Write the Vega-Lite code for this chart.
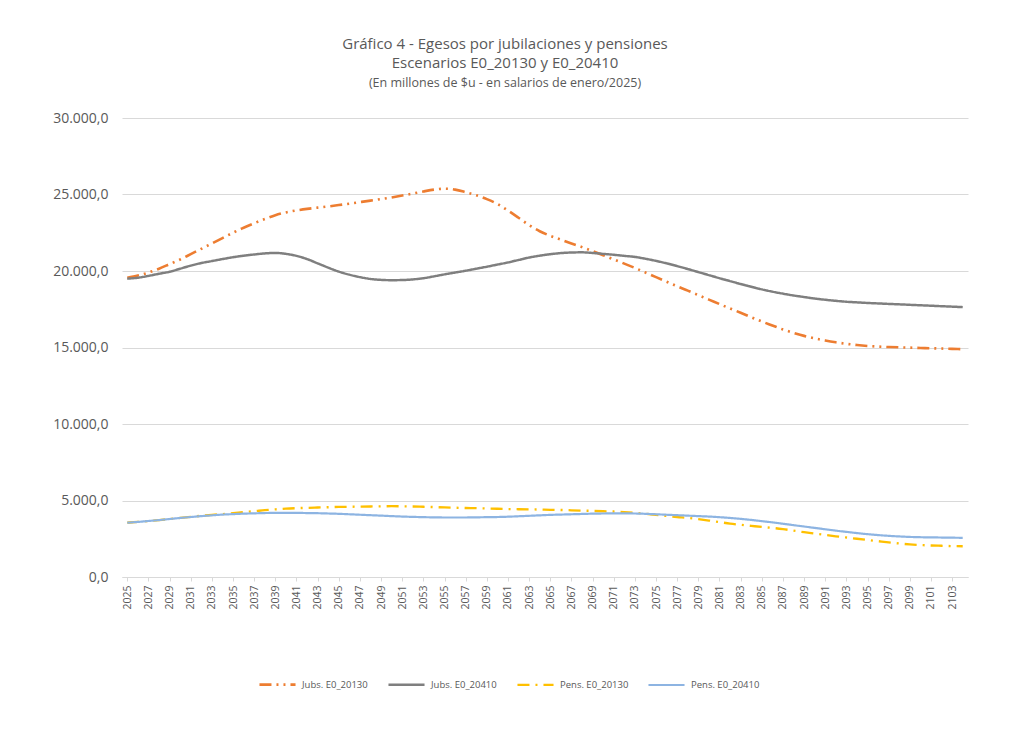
{
  "$schema": "https://vega.github.io/schema/vega-lite/v6.json",
  "autosize": {"type": "none"},
  "width": 846,
  "height": 459,
  "padding": {"left": 122, "top": 118, "right": 41, "bottom": 163},
  "background": "white",
  "title": {
    "text": ["Gráfico 4 - Egesos por jubilaciones  y pensiones", "Escenarios E0_20130 y E0_20410"],
    "subtitle": "(En millones de $u - en salarios de enero/2025)",
    "anchor": "middle",
    "dx": -40,
    "offset": 22,
    "font": "Open Sans",
    "fontSize": 15,
    "fontWeight": "normal",
    "color": "#595959",
    "lineHeight": 19,
    "subtitleFont": "Open Sans",
    "subtitleFontSize": 12.5,
    "subtitleColor": "#595959",
    "subtitlePadding": 6
  },
  "config": {
    "locale": {"number": {"decimal": ",", "thousands": ".", "grouping": [3], "currency": ["$", ""]}},
    "view": {"stroke": null},
    "font": "Open Sans"
  },
  "data": {
    "values": [
      {"y": 2025, "J130": 19550, "J410": 19500, "P130": 3550, "P410": 3550},
      {"y": 2026, "J130": 19700, "J410": 19560, "P130": 3600, "P410": 3600},
      {"y": 2027, "J130": 19900, "J410": 19680, "P130": 3660, "P410": 3660},
      {"y": 2028, "J130": 20150, "J410": 19820, "P130": 3720, "P410": 3720},
      {"y": 2029, "J130": 20450, "J410": 19950, "P130": 3790, "P410": 3790},
      {"y": 2030, "J130": 20750, "J410": 20150, "P130": 3860, "P410": 3860},
      {"y": 2031, "J130": 21100, "J410": 20350, "P130": 3930, "P410": 3920},
      {"y": 2032, "J130": 21450, "J410": 20520, "P130": 4000, "P410": 3980},
      {"y": 2033, "J130": 21800, "J410": 20650, "P130": 4060, "P410": 4030},
      {"y": 2034, "J130": 22150, "J410": 20780, "P130": 4110, "P410": 4080},
      {"y": 2035, "J130": 22500, "J410": 20900, "P130": 4170, "P410": 4110},
      {"y": 2036, "J130": 22830, "J410": 21000, "P130": 4240, "P410": 4140},
      {"y": 2037, "J130": 23120, "J410": 21080, "P130": 4300, "P410": 4160},
      {"y": 2038, "J130": 23400, "J410": 21150, "P130": 4370, "P410": 4180},
      {"y": 2039, "J130": 23650, "J410": 21180, "P130": 4420, "P410": 4190},
      {"y": 2040, "J130": 23830, "J410": 21120, "P130": 4470, "P410": 4190},
      {"y": 2041, "J130": 23960, "J410": 20990, "P130": 4500, "P410": 4190},
      {"y": 2042, "J130": 24060, "J410": 20780, "P130": 4520, "P410": 4180},
      {"y": 2043, "J130": 24140, "J410": 20500, "P130": 4540, "P410": 4170},
      {"y": 2044, "J130": 24220, "J410": 20220, "P130": 4560, "P410": 4150},
      {"y": 2045, "J130": 24310, "J410": 19960, "P130": 4580, "P410": 4130},
      {"y": 2046, "J130": 24400, "J410": 19760, "P130": 4590, "P410": 4100},
      {"y": 2047, "J130": 24500, "J410": 19600, "P130": 4600, "P410": 4070},
      {"y": 2048, "J130": 24600, "J410": 19480, "P130": 4610, "P410": 4040},
      {"y": 2049, "J130": 24700, "J410": 19420, "P130": 4620, "P410": 4010},
      {"y": 2050, "J130": 24810, "J410": 19400, "P130": 4630, "P410": 3980},
      {"y": 2051, "J130": 24930, "J410": 19410, "P130": 4620, "P410": 3950},
      {"y": 2052, "J130": 25060, "J410": 19450, "P130": 4610, "P410": 3930},
      {"y": 2053, "J130": 25200, "J410": 19530, "P130": 4590, "P410": 3910},
      {"y": 2054, "J130": 25320, "J410": 19650, "P130": 4570, "P410": 3900},
      {"y": 2055, "J130": 25380, "J410": 19780, "P130": 4550, "P410": 3890},
      {"y": 2056, "J130": 25320, "J410": 19900, "P130": 4530, "P410": 3890},
      {"y": 2057, "J130": 25150, "J410": 20020, "P130": 4510, "P410": 3890},
      {"y": 2058, "J130": 24950, "J410": 20150, "P130": 4500, "P410": 3900},
      {"y": 2059, "J130": 24700, "J410": 20280, "P130": 4480, "P410": 3910},
      {"y": 2060, "J130": 24380, "J410": 20420, "P130": 4460, "P410": 3920},
      {"y": 2061, "J130": 23950, "J410": 20560, "P130": 4440, "P410": 3940},
      {"y": 2062, "J130": 23480, "J410": 20720, "P130": 4430, "P410": 3970},
      {"y": 2063, "J130": 23000, "J410": 20880, "P130": 4420, "P410": 4000},
      {"y": 2064, "J130": 22600, "J410": 21000, "P130": 4410, "P410": 4030},
      {"y": 2065, "J130": 22300, "J410": 21100, "P130": 4390, "P410": 4060},
      {"y": 2066, "J130": 22050, "J410": 21170, "P130": 4380, "P410": 4080},
      {"y": 2067, "J130": 21800, "J410": 21210, "P130": 4360, "P410": 4100},
      {"y": 2068, "J130": 21560, "J410": 21220, "P130": 4340, "P410": 4120},
      {"y": 2069, "J130": 21300, "J410": 21180, "P130": 4320, "P410": 4140},
      {"y": 2070, "J130": 21030, "J410": 21120, "P130": 4300, "P410": 4150},
      {"y": 2071, "J130": 20760, "J410": 21060, "P130": 4280, "P410": 4160},
      {"y": 2072, "J130": 20480, "J410": 20990, "P130": 4240, "P410": 4160},
      {"y": 2073, "J130": 20200, "J410": 20920, "P130": 4190, "P410": 4150},
      {"y": 2074, "J130": 19900, "J410": 20800, "P130": 4130, "P410": 4130},
      {"y": 2075, "J130": 19600, "J410": 20660, "P130": 4060, "P410": 4100},
      {"y": 2076, "J130": 19300, "J410": 20500, "P130": 3990, "P410": 4070},
      {"y": 2077, "J130": 19000, "J410": 20320, "P130": 3920, "P410": 4040},
      {"y": 2078, "J130": 18720, "J410": 20130, "P130": 3860, "P410": 4010},
      {"y": 2079, "J130": 18420, "J410": 19930, "P130": 3780, "P410": 3980},
      {"y": 2080, "J130": 18130, "J410": 19730, "P130": 3690, "P410": 3950},
      {"y": 2081, "J130": 17840, "J410": 19530, "P130": 3590, "P410": 3910},
      {"y": 2082, "J130": 17550, "J410": 19340, "P130": 3490, "P410": 3860},
      {"y": 2083, "J130": 17270, "J410": 19150, "P130": 3410, "P410": 3800},
      {"y": 2084, "J130": 16980, "J410": 18970, "P130": 3340, "P410": 3730},
      {"y": 2085, "J130": 16700, "J410": 18800, "P130": 3270, "P410": 3650},
      {"y": 2086, "J130": 16440, "J410": 18650, "P130": 3210, "P410": 3570},
      {"y": 2087, "J130": 16180, "J410": 18520, "P130": 3130, "P410": 3480},
      {"y": 2088, "J130": 15960, "J410": 18400, "P130": 3030, "P410": 3390},
      {"y": 2089, "J130": 15760, "J410": 18300, "P130": 2930, "P410": 3300},
      {"y": 2090, "J130": 15600, "J410": 18200, "P130": 2840, "P410": 3210},
      {"y": 2091, "J130": 15460, "J410": 18120, "P130": 2750, "P410": 3120},
      {"y": 2092, "J130": 15340, "J410": 18050, "P130": 2660, "P410": 3030},
      {"y": 2093, "J130": 15240, "J410": 17990, "P130": 2580, "P410": 2950},
      {"y": 2094, "J130": 15160, "J410": 17950, "P130": 2500, "P410": 2870},
      {"y": 2095, "J130": 15100, "J410": 17910, "P130": 2420, "P410": 2800},
      {"y": 2096, "J130": 15060, "J410": 17880, "P130": 2340, "P410": 2740},
      {"y": 2097, "J130": 15030, "J410": 17850, "P130": 2260, "P410": 2690},
      {"y": 2098, "J130": 15010, "J410": 17820, "P130": 2190, "P410": 2650},
      {"y": 2099, "J130": 14990, "J410": 17790, "P130": 2130, "P410": 2620},
      {"y": 2100, "J130": 14970, "J410": 17760, "P130": 2090, "P410": 2600},
      {"y": 2101, "J130": 14950, "J410": 17730, "P130": 2060, "P410": 2590},
      {"y": 2102, "J130": 14930, "J410": 17700, "P130": 2040, "P410": 2580},
      {"y": 2103, "J130": 14910, "J410": 17670, "P130": 2020, "P410": 2570},
      {"y": 2104, "J130": 14890, "J410": 17640, "P130": 2010, "P410": 2560}
    ]
  },
  "transform": [
    {"fold": ["J130", "J410", "P130", "P410"], "as": ["serie", "valor"]}
  ],
  "mark": {"type": "line", "interpolate": "monotone", "strokeCap": "butt"},
  "encoding": {
    "x": {
      "field": "y",
      "type": "quantitative",
      "scale": {"domain": [2024.5, 2104.5], "nice": false, "zero": false},
      "axis": {
        "title": null,
        "values": [2025, 2027, 2029, 2031, 2033, 2035, 2037, 2039, 2041, 2043, 2045, 2047, 2049, 2051, 2053, 2055, 2057, 2059, 2061, 2063, 2065, 2067, 2069, 2071, 2073, 2075, 2077, 2079, 2081, 2083, 2085, 2087, 2089, 2091, 2093, 2095, 2097, 2099, 2101, 2103],
        "format": "d",
        "labelAngle": -90,
        "labelFontSize": 10.5,
        "labelColor": "#595959",
        "labelPadding": 4,
        "labelOverlap": false,
        "labelFlush": false,
        "grid": false,
        "domainColor": "#d9d9d9",
        "tickColor": "#d9d9d9",
        "tickSize": 4
      }
    },
    "y": {
      "field": "valor",
      "type": "quantitative",
      "scale": {"domain": [0, 30000], "nice": false},
      "axis": {
        "title": null,
        "values": [0, 5000, 10000, 15000, 20000, 25000, 30000],
        "format": ",.1f",
        "labelFontSize": 14,
        "labelColor": "#595959",
        "labelPadding": 14,
        "domain": false,
        "ticks": false,
        "gridColor": "#d9d9d9",
        "gridWidth": 1
      }
    },
    "color": {
      "field": "serie",
      "type": "nominal",
      "scale": {"domain": ["J130", "J410", "P130", "P410"], "range": ["#ED7D31", "#7f7f7f", "#FFC000", "#8db4e2"]},
      "legend": {
        "title": null,
        "orient": "none",
        "legendX": 136,
        "legendY": 547,
        "direction": "horizontal",
        "symbolType": "stroke",
        "symbolSize": 1300,
        "symbolStrokeWidth": 2.5,
        "labelFontSize": 9.5,
        "labelColor": "#595959",
        "labelOffset": 5,
        "columnPadding": 15,
        "labelExpr": "{'J130': 'Jubs. E0_20130', 'J410': 'Jubs. E0_20410', 'P130': 'Pens. E0_20130', 'P410': 'Pens. E0_20410'}[datum.value]"
      }
    },
    "strokeDash": {
      "field": "serie",
      "type": "nominal",
      "scale": {"domain": ["J130", "J410", "P130", "P410"], "range": [[12, 5, 2, 5, 2, 5], [1, 0], [12, 6, 2, 6], [1, 0]]},
      "legend": null
    },
    "strokeWidth": {
      "field": "serie",
      "type": "nominal",
      "scale": {"domain": ["J130", "J410", "P130", "P410"], "range": [2.6, 2.2, 2.6, 1.8]},
      "legend": null
    }
  }
}
